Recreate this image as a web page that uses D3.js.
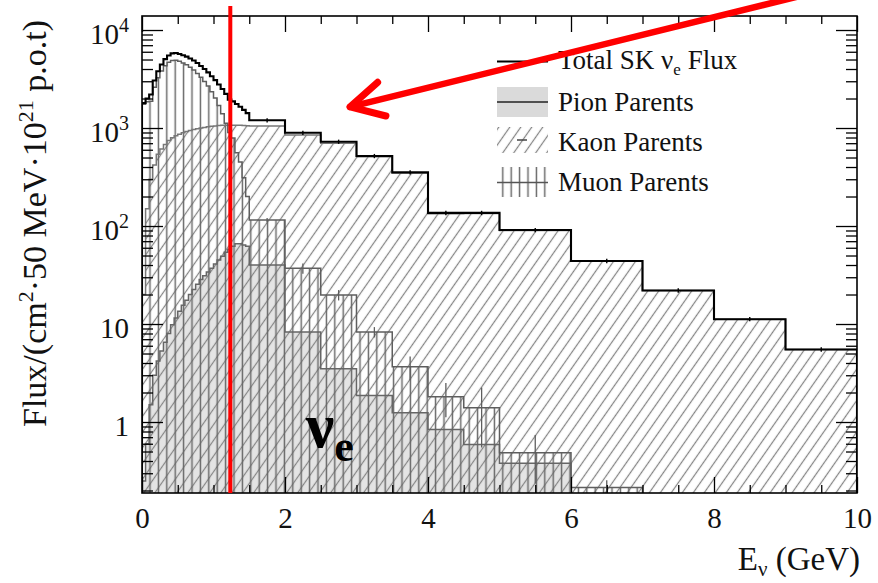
<!DOCTYPE html>
<html>
<head>
<meta charset="utf-8">
<script src="https://cdn.jsdelivr.net/npm/d3@7"></script>
<style>
  body { margin: 0; background: #fff; }
  svg { display: block; }
</style>
</head>
<body>
<svg id="chart" width="878" height="583"></svg>
<script>
// Predicted SK nu_e flux by parent particle, per 50 MeV bin width, per 1e21 p.o.t.
const binEdges = [0, 0.05, 0.1, 0.15, 0.2, 0.25, 0.3, 0.35, 0.4, 0.45, 0.5, 0.55, 0.6, 0.65,
  0.7, 0.75, 0.8, 0.85, 0.9, 0.95, 1.0, 1.05, 1.1, 1.15, 1.2, 1.25, 1.3, 1.35, 1.4, 1.45,
  1.5, 2.0, 2.5, 3.0, 3.5, 4.0, 4.5, 5.0, 6.0, 7.0, 8.0, 9.0, 10.0];

const totalFlux = [1800, 2000, 2200, 3050, 3800, 4450, 5050, 5500, 5780, 5820, 5700, 5520,
  5350, 5120, 4880, 4600, 4300, 4000, 3700, 3380, 3080, 2780, 2500, 2230, 1950, 1870, 1760,
  1650, 1530, 1420,
  1200, 895, 725, 518, 353, 136, 136, 91, 44, 22, 11.2, 5.5];

const pionFlux = [0.25, 0.6, 1.5, 3.0, 4.2, 5.3, 6.5, 8.0, 9.8, 11.5, 13.5, 15.5, 17.5, 20,
  22.5, 25.5, 28.5, 31, 34, 37, 41, 45, 49, 54, 58, 62, 66, 66, 64, 62,
  40, 8.3, 3.5, 1.86, 1.24, 0.84, 0.59, 0.38, 0, 0, 0, 0];

const kaonFlux = [20, 150, 300, 420, 540, 610, 680, 745, 795, 835, 865, 895, 920, 945, 965,
  985, 1000, 1015, 1030, 1040, 1050, 1060, 1065, 1070, 1070, 1070, 1070, 1065, 1060, 1055,
  1050, 850, 700, 508, 348, 133, 134, 90, 44, 22, 11.2, 5.5];

const muonFlux = [1750, 1850, 1880, 2600, 3250, 3820, 4330, 4700, 4900, 4920, 4800, 4600,
  4420, 4170, 3900, 3600, 3300, 2980, 2680, 2350, 2030, 1700, 1400, 1120, 900, 790, 560,
  450, 310, 200,
  115, 37, 19.8, 8.3, 3.66, 1.81, 1.40, 0.486, 0.215, 0, 0, 0];

// statistical errors (only the wide bins carry visible bars)
const muonErr = [0, 0, 0, 0, 0, 0, 0, 0, 0, 0, 0, 0, 0, 0, 0, 0, 0, 0, 0, 0, 0, 0, 0, 0,
  0, 0, 0, 0, 0, 0,
  6, 4.5, 2.4, 1.0, 1.0, 0.69, 0.85, 0.25, 0.04, 0, 0, 0];
const totalErr = [0, 0, 0, 0, 0, 0, 0, 0, 0, 0, 0, 0, 0, 0, 0, 0, 0, 0, 0, 0, 0, 0, 0, 0,
  0, 0, 0, 0, 0, 0,
  60, 45, 36, 26, 18, 7, 7, 4.5, 2.2, 1.1, 0.56, 0.28];

const xTickMajor = [0, 2, 4, 6, 8, 10];
const xTickMinor = [0.5, 1, 1.5, 2.5, 3, 3.5, 4.5, 5, 5.5, 6.5, 7, 7.5, 8.5, 9, 9.5];
const yTickMajor = [1, 10, 100, 1000, 10000];
const yTickLabels = [
  { v: 1, base: "1", exp: "" },
  { v: 10, base: "10", exp: "" },
  { v: 100, base: "10", exp: "2" },
  { v: 1000, base: "10", exp: "3" },
  { v: 10000, base: "10", exp: "4" }
];
const yTickMinor = [0.2, 0.3, 0.4, 0.5, 0.6, 0.7, 0.8, 0.9,
  2, 3, 4, 5, 6, 7, 8, 9, 20, 30, 40, 50, 60, 70, 80, 90,
  200, 300, 400, 500, 600, 700, 800, 900, 2000, 3000, 4000, 5000, 6000, 7000, 8000, 9000];

const yMin = 0.1886, yMax = 13900;
const markerEnergy = 1.235;                     // red vertical marker
const arrowTail = { e: 9.2, flux: 22200 };
const arrowHead = { e: 2.91, flux: 1640 };
const nuLabel = { e: 2.29, flux: 0.56 };

const serif = "'Liberation Serif', 'Times New Roman', Times, serif";
const plot = { left: 142, right: 857, top: 16, bottom: 493 };

const svg = d3.select("#chart");
const x = d3.scaleLinear().domain([0, 10]).range([plot.left, plot.right]);
const y = d3.scaleLog().domain([yMin, yMax]).range([plot.bottom, plot.top]);

// ---- fill patterns ----
const defs = svg.append("defs");
defs.append("clipPath").attr("id", "plotClip")
  .append("rect").attr("x", plot.left).attr("y", plot.top)
  .attr("width", plot.right - plot.left).attr("height", plot.bottom - plot.top);

const kaonPat = defs.append("pattern").attr("id", "kaonHatch")
  .attr("patternUnits", "userSpaceOnUse").attr("width", 9).attr("height", 9)
  .attr("patternTransform", "rotate(35)");
kaonPat.append("line").attr("x1", 4.5).attr("y1", -1).attr("x2", 4.5).attr("y2", 10)
  .attr("stroke", "#858585").attr("stroke-width", 1.25);

const muonPat = defs.append("pattern").attr("id", "muonHatch")
  .attr("patternUnits", "userSpaceOnUse").attr("x", 145.8).attr("y", 0)
  .attr("width", 8.4).attr("height", 10);
muonPat.append("line").attr("x1", 4.2).attr("y1", -1).attr("x2", 4.2).attr("y2", 11)
  .attr("stroke", "#666").attr("stroke-width", 1.45);

// ---- histogram helpers ----
function stepPoints(vals) {
  let last = vals.length - 1;
  while (last >= 0 && !(vals[last] > 0)) last--;
  const pts = [[x(binEdges[0]), plot.bottom]];
  for (let i = 0; i <= last; i++) {
    const yy = vals[i] > 0 ? y(Math.max(vals[i], yMin)) : plot.bottom;
    pts.push([x(binEdges[i]), yy], [x(binEdges[i + 1]), yy]);
  }
  pts.push([x(binEdges[last + 1]), plot.bottom]);
  return pts;
}
const line = d3.line();

const gPlot = svg.append("g").attr("clip-path", "url(#plotClip)");

// fills
gPlot.append("path").attr("d", line(stepPoints(pionFlux)) + "Z").attr("fill", "#e4e4e4");
gPlot.append("path").attr("d", line(stepPoints(kaonFlux)) + "Z").attr("fill", "url(#kaonHatch)");
gPlot.append("path").attr("d", line(stepPoints(muonFlux)) + "Z").attr("fill", "url(#muonHatch)");

// outlines
gPlot.append("path").attr("d", line(stepPoints(pionFlux))).attr("fill", "none")
  .attr("stroke", "#666").attr("stroke-width", 1.5);
gPlot.append("path").attr("d", line(stepPoints(kaonFlux))).attr("fill", "none")
  .attr("stroke", "#777").attr("stroke-width", 1.5);
gPlot.append("path").attr("d", line(stepPoints(muonFlux))).attr("fill", "none")
  .attr("stroke", "#5e5e5e").attr("stroke-width", 1.5);

// error bars
function errorBars(vals, errs, color, width) {
  vals.forEach((v, i) => {
    if (!(v > 0) || !(errs[i] > 0)) return;
    const cx = x((binEdges[i] + binEdges[i + 1]) / 2);
    gPlot.append("line").attr("x1", cx).attr("x2", cx)
      .attr("y1", y(v + errs[i])).attr("y2", y(Math.max(v - errs[i], yMin)))
      .attr("stroke", color).attr("stroke-width", width);
  });
}
errorBars(muonFlux, muonErr, "#5e5e5e", 1.3);

// total flux
gPlot.append("path").attr("d", line(stepPoints(totalFlux))).attr("fill", "none")
  .attr("stroke", "#000").attr("stroke-width", 2.1).attr("stroke-linejoin", "miter");
errorBars(totalFlux, totalErr, "#000", 1.4);

// ---- axes ----
function styleAxis(g) {
  g.select(".domain").remove();
  g.selectAll(".tick line").attr("stroke", "#000").attr("stroke-width", 1.3);
}
svg.append("g").attr("transform", `translate(0,${plot.bottom})`)
  .call(d3.axisBottom(x).tickValues(xTickMinor).tickSize(-8).tickSizeOuter(0).tickFormat(""))
  .call(styleAxis);
svg.append("g").attr("transform", `translate(0,${plot.top})`)
  .call(d3.axisTop(x).tickValues(xTickMinor).tickSize(-8).tickSizeOuter(0).tickFormat(""))
  .call(styleAxis);
svg.append("g").attr("transform", `translate(0,${plot.top})`)
  .call(d3.axisTop(x).tickValues(xTickMajor).tickSize(-16).tickSizeOuter(0).tickFormat(""))
  .call(styleAxis);
const xAxisG = svg.append("g").attr("transform", `translate(0,${plot.bottom})`)
  .call(d3.axisBottom(x).tickValues(xTickMajor).tickSize(-16).tickSizeOuter(0)
    .tickPadding(14.5).tickFormat(d3.format("d")))
  .call(styleAxis);
xAxisG.attr("font-family", serif).attr("font-size", 29);
xAxisG.selectAll(".tick text").attr("fill", "#111");

svg.append("g").attr("transform", `translate(${plot.left},0)`)
  .call(d3.axisLeft(y).tickValues(yTickMajor).tickSize(-21).tickSizeOuter(0).tickFormat(""))
  .call(styleAxis);
svg.append("g").attr("transform", `translate(${plot.left},0)`)
  .call(d3.axisLeft(y).tickValues(yTickMinor).tickSize(-11).tickSizeOuter(0).tickFormat(""))
  .call(styleAxis);
svg.append("g").attr("transform", `translate(${plot.right},0)`)
  .call(d3.axisRight(y).tickValues(yTickMajor).tickSize(-21).tickSizeOuter(0).tickFormat(""))
  .call(styleAxis);
svg.append("g").attr("transform", `translate(${plot.right},0)`)
  .call(d3.axisRight(y).tickValues(yTickMinor).tickSize(-11).tickSizeOuter(0).tickFormat(""))
  .call(styleAxis);

// y tick labels with superscript exponents
const yLab = svg.append("g").attr("font-family", serif).attr("fill", "#111");
yTickLabels.forEach(t => {
  const txt = yLab.append("text").attr("x", 129).attr("y", y(t.v) + 14)
    .attr("text-anchor", "end").attr("font-size", 29);
  txt.append("tspan").text(t.base);
  if (t.exp) txt.append("tspan").attr("dy", -12).attr("font-size", 20).text(t.exp);
});

// frame
svg.append("rect").attr("x", plot.left).attr("y", plot.top)
  .attr("width", plot.right - plot.left).attr("height", plot.bottom - plot.top)
  .attr("fill", "none").attr("stroke", "#000").attr("stroke-width", 1.6);

// axis titles
const xt = svg.append("text").attr("x", 860).attr("y", 570).attr("text-anchor", "end")
  .attr("font-family", serif).attr("font-size", 33).attr("fill", "#111");
xt.append("tspan").text("E");
xt.append("tspan").attr("dy", 6).attr("font-size", 21).text("ν");
xt.append("tspan").attr("dy", -6).text(" (GeV)");

const yt = svg.append("text").attr("transform", "translate(46,20) rotate(-90)")
  .attr("text-anchor", "end").attr("font-family", serif).attr("font-size", 34).attr("fill", "#111");
yt.append("tspan").text("Flux/(cm");
yt.append("tspan").attr("dy", -13).attr("font-size", 22).text("2");
yt.append("tspan").attr("dy", 13).text("·50 MeV·10");
yt.append("tspan").attr("dy", -13).attr("font-size", 22).text("21");
yt.append("tspan").attr("dy", 13).text(" p.o.t)");

// ---- legend ----
const leg = svg.append("g").attr("font-family", serif).attr("font-size", 27).attr("fill", "#111");
const lx0 = 497, lx1 = 548, tx = 558;
leg.append("line").attr("x1", lx0).attr("x2", lx1).attr("y1", 61.5).attr("y2", 61.5)
  .attr("stroke", "#000").attr("stroke-width", 2);
const t0 = leg.append("text").attr("x", tx).attr("y", 69);
t0.append("tspan").text("Total SK ν");
t0.append("tspan").attr("dy", 6).attr("font-size", 17).text("e");
t0.append("tspan").attr("dy", -6).text(" Flux");

leg.append("rect").attr("x", lx0).attr("y", 87).attr("width", lx1 - lx0).attr("height", 30)
  .attr("fill", "#dadada");
leg.append("line").attr("x1", lx0).attr("x2", lx1).attr("y1", 102).attr("y2", 102)
  .attr("stroke", "#222").attr("stroke-width", 1.5);
leg.append("text").attr("x", tx).attr("y", 111).text("Pion Parents");

leg.append("rect").attr("x", lx0).attr("y", 127).attr("width", lx1 - lx0).attr("height", 26)
  .attr("fill", "url(#kaonHatch)");
leg.append("line").attr("x1", lx0 + 20).attr("x2", lx0 + 30).attr("y1", 140).attr("y2", 140)
  .attr("stroke", "#444").attr("stroke-width", 1.5);
leg.append("text").attr("x", tx).attr("y", 151).text("Kaon Parents");

leg.append("rect").attr("x", lx0).attr("y", 167).attr("width", lx1 - lx0).attr("height", 30)
  .attr("fill", "url(#muonHatch)");
leg.append("line").attr("x1", lx0).attr("x2", lx1).attr("y1", 182.5).attr("y2", 182.5)
  .attr("stroke", "#555").attr("stroke-width", 1.4);
leg.append("text").attr("x", tx).attr("y", 191).text("Muon Parents");

// ---- annotations ----
svg.append("line").attr("x1", x(markerEnergy)).attr("x2", x(markerEnergy))
  .attr("y1", 6).attr("y2", plot.bottom)
  .attr("stroke", "#ff0000").attr("stroke-width", 4);

const ax0 = x(arrowTail.e), ay0 = y(arrowTail.flux);
const ax1 = x(arrowHead.e), ay1 = y(arrowHead.flux);
svg.append("line").attr("x1", ax0).attr("y1", ay0).attr("x2", ax1).attr("y2", ay1)
  .attr("stroke", "#ff0000").attr("stroke-width", 6.5).attr("stroke-linecap", "round");
{
  const ang = Math.atan2(ay0 - ay1, ax0 - ax1);
  const len = 37, spread = 28 * Math.PI / 180;
  const w1 = [ax1 + len * Math.cos(ang - spread), ay1 + len * Math.sin(ang - spread)];
  const w2 = [ax1 + len * Math.cos(ang + spread), ay1 + len * Math.sin(ang + spread)];
  svg.append("path").attr("d", d3.line()([w1, [ax1, ay1], w2]))
    .attr("fill", "none").attr("stroke", "#ff0000").attr("stroke-width", 7)
    .attr("stroke-linecap", "round").attr("stroke-linejoin", "round");
}

const nu = svg.append("text").attr("x", x(nuLabel.e)).attr("y", y(nuLabel.flux))
  .attr("font-family", serif).attr("font-weight", "bold").attr("font-size", 64).attr("fill", "#000");
nu.append("tspan").text("ν");
nu.append("tspan").attr("dy", 14).attr("font-size", 44).text("e");
</script>
</body>
</html>
